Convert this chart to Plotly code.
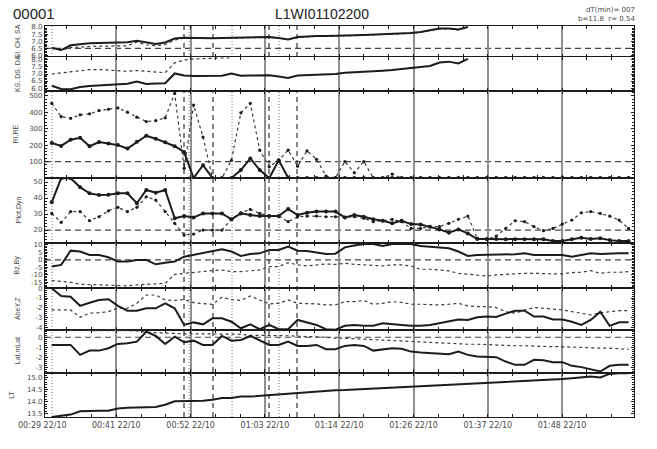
import plotly.graph_objects as go
from plotly.subplots import make_subplots

FONT = "Liberation Sans"
TICK_FONT = "DejaVu Sans"
INK = "#1c1c1c"
DOT = "#3a3a3a"
GRID = "#8f8f8f"
LABEL = "#4a4a4a"

# Sample times, minutes after 00:00 on 22/10
t = [30.92, 32.35, 33.78, 35.22, 36.65, 38.08, 39.51, 40.94, 42.38, 43.81,
     45.24, 46.67, 48.10, 49.54, 50.97, 52.40, 53.83, 55.26, 56.70, 58.13,
     59.56, 60.99, 62.42, 63.86, 65.29, 66.72, 68.15, 69.58, 71.02, 72.45,
     73.88, 75.31, 76.74, 78.18, 79.61, 81.04, 82.47, 83.90, 85.34, 86.77,
     88.20, 89.63, 91.06, 92.50, 93.93, 95.36, 96.79, 98.22, 99.66, 101.09,
     102.52, 103.95, 105.38, 106.82, 108.25, 109.68, 111.11, 112.54, 113.98, 115.41,
     116.84, 118.27]

# Time axis ticks
tick_times = [40.70, 51.95, 63.20, 74.45, 85.70, 96.95, 108.20]
tick_labels = ["00:41 22/10", "00:52 22/10", "01:03 22/10", "01:14 22/10",
               "01:26 22/10", "01:37 22/10", "01:48 22/10"]
first_tick_time = 29.45
first_tick_label = "00:29 22/10"
x_range = [29.90, 119.09]

# Event markers
dashed_events = [50.95, 55.34, 63.82, 68.06]
dotted_events = [30.96, 51.71, 58.22, 65.34]

# Panel 1: SI (solid), SA (dotted)
si = [6.54, 6.38, 6.71, 6.80, 6.85, 6.87, 6.89, 6.89, 6.92, 7.04,
      6.91, 6.80, 6.91, 7.19, 7.25, 7.23, 7.23, 7.20, 7.23, 7.25,
      7.25, 7.26, 7.27, 7.30, 7.23, 7.13, 7.30, 7.35, 7.37, 7.37,
      7.37, 7.39, 7.42, 7.44, 7.46, 7.47, 7.51, 7.54, 7.58, 7.65,
      7.75, 7.89, 7.89, 7.82, 8.00]
sa = [6.49, 6.38, 6.56, 6.61, 6.64, 6.66, 6.66, 6.66, 6.68, 6.94,
      6.75, 6.68, 6.77, 7.08, 7.22, 7.21, 7.20, 7.18, 7.21, 7.23,
      7.23, 7.24, 7.25, 7.27, 7.21, 7.12, 7.27, 7.33, 7.35, 7.35,
      7.35, 7.37, 7.40, 7.42, 7.44, 7.45, 7.49, 7.52, 7.56, 7.63,
      7.73, 7.87, 7.87, 7.80, 7.98]

# Panel 2: KS (solid), DS (dotted)
ks = [6.16, 5.93, 5.91, 6.07, 6.14, 6.19, 6.21, 6.26, 6.31, 6.46,
      6.29, 6.32, 6.34, 7.04, 6.89, 6.86, 6.86, 6.88, 6.88, 7.04,
      6.88, 6.89, 6.89, 6.91, 6.82, 6.71, 6.89, 6.91, 6.93, 6.93,
      7.00, 7.09, 7.12, 7.14, 7.19, 7.24, 7.29, 7.36, 7.43, 7.46,
      7.57, 7.82, 7.88, 7.75, 8.08]
ds = [7.00, 7.07, 7.16, 7.25, 7.31, 7.32, 7.29, 7.25, 7.19, 7.25,
      7.18, 7.11, 7.09, 7.79, 8.00, 8.07, 8.11, 8.12, 8.14, 8.14]

# Panel 3: RI (solid), RE (dotted)
ri = [213, 195, 233, 245, 193, 219, 210, 200, 179, 220,
      257, 239, 217, 193, 158, 0, 78, 0, 0, 0,
      48, 119, 48, 0, 108, 2, 0, 0, 0, 0,
      0, 0, 0, 0, 0, 0, 0, 0, 0, 0,
      0, 0, 0, 0, 0, 0, 0, 0, 0, 0,
      0, 0, 0, 0, 0, 0, 0, 0, 0, 0,
      0, 0]
re = [454, 373, 363, 384, 390, 410, 418, 426, 400, 370,
      343, 349, 366, 514, 60, 444, 249, 0, 0, 108,
      396, 454, 169, 68, 108, 169, 72, 165, 114, 12,
      0, 100, 32, 100, 0, 0, 24, 0, 0, 0,
      0, 0, 0, 0, 0, 0, 0, 0, 0, 0,
      0, 0, 0, 0, 0, 0, 0, 0, 0, 0,
      0, 0]

# Panel 4: Ptot (solid), Dyn (dotted)
ptot = [37.3, 52.4, 52.4, 46.7, 42.9, 41.9, 42.0, 42.9, 42.9, 36.7,
        45.0, 43.3, 45.0, 27.3, 28.7, 27.9, 30.4, 30.4, 30.4, 26.7,
        30.4, 29.4, 28.7, 28.7, 28.7, 33.1, 29.4, 30.8, 31.5, 31.5,
        31.5, 27.9, 29.4, 28.3, 26.7, 25.8, 24.2, 25.8, 23.7, 23.5,
        22.1, 20.4, 18.3, 20.4, 17.9, 14.4, 14.4, 14.4, 14.2, 14.2,
        14.2, 14.2, 14.2, 13.1, 13.1, 14.2, 15.2, 14.4, 14.8, 13.7,
        13.1, 13.1]
dyn = [30.4, 24.8, 31.5, 31.5, 25.8, 28.3, 32.0, 34.2, 31.5, 34.2,
       40.8, 38.7, 31.5, 24.2, 16.9, 17.5, 20.0, 20.0, 20.0, 26.7,
       30.8, 32.9, 30.4, 28.7, 28.7, 25.2, 28.3, 28.7, 28.7, 28.3,
       28.3, 27.9, 28.3, 27.3, 25.2, 25.8, 26.7, 25.2, 21.0, 21.0,
       22.1, 22.1, 24.2, 26.7, 28.7, 14.8, 14.2, 16.2, 21.0, 25.8,
       25.2, 22.1, 19.6, 21.0, 23.7, 26.2, 30.8, 31.5, 30.4, 28.7,
       26.2, 21.0]

# Panel 5: Bz (solid), By (dotted)
bz = [-4.4, -3.3, 6.2, 5.6, 3.3, 3.3, 1.8, -1.1, -1.1, 0.0,
      0.0, -2.9, -1.8, -1.1, 2.2, 3.3, 4.4, 5.6, 7.1, 5.6,
      2.7, 4.0, 4.4, 6.7, 6.7, 8.9, 6.2, 6.0, 4.9, 4.0,
      4.2, 8.4, 9.6, 10.7, 10.7, 9.3, 10.7, 10.7, 10.7, 9.3,
      8.9, 8.4, 7.8, 5.6, 2.7, 3.3, 3.3, 3.3, 3.3, 3.8,
      4.4, 3.3, 3.3, 3.3, 3.3, 2.2, 3.3, 4.4, 4.0, 4.4,
      4.4, 4.4]
by = [-13.8, -14.4, -14.9, -16.2, -16.6, -16.6, -16.8, -17.0, -17.3, -16.6,
      -16.2, -15.6, -15.6, -9.6, -8.9, -8.4, -7.8, -7.1, -6.7, -7.8,
      -7.8, -7.1, -6.7, -4.4, -4.4, -1.8, -3.3, -4.0, -3.3, -2.7,
      -3.0, -2.2, -2.9, -3.3, -4.0, -4.0, -3.3, -3.3, -4.0, -6.2,
      -6.2, -6.7, -7.3, -8.9, -9.6, -10.0, -10.7, -10.0, -9.6, -8.9,
      -8.9, -8.9, -9.3, -9.3, -9.3, -8.4, -8.2, -7.1, -8.9, -8.2,
      -8.2, -7.8]

# Panel 6: AbeY (solid), Z (dotted)
abey = [0.00, -0.79, -0.86, -1.80, -1.48, -1.20, -1.13, -1.80, -2.30, -2.30,
        -2.05, -2.05, -1.54, -2.05, -3.76, -3.50, -3.70, -3.08, -3.08, -3.43,
        -4.10, -3.70, -4.20, -3.76, -4.20, -4.20, -3.25, -3.50, -3.76, -4.20,
        -4.25, -3.85, -3.76, -3.85, -3.85, -3.60, -3.65, -3.76, -3.85, -3.85,
        -3.76, -3.60, -3.38, -3.20, -3.25, -2.97, -2.90, -2.95, -2.60, -2.30,
        -2.30, -2.90, -2.90, -3.20, -3.20, -3.43, -3.76, -3.25, -2.40, -3.85,
        -3.48, -3.48]
abez = [-2.22, -2.22, -2.22, -2.97, -2.56, -2.50, -2.40, -2.05, -2.05, -1.54,
        -0.69, -0.69, -1.20, -1.25, -1.16, -1.48, -1.54, -1.64, -0.92, -1.16,
        -1.25, -0.79, -1.20, -1.60, -1.54, -1.20, -1.54, -1.54, -1.60, -1.71,
        -1.71, -1.37, -1.37, -1.25, -1.64, -1.54, -1.37, -1.45, -1.64, -1.64,
        -1.71, -1.71, -1.64, -1.54, -1.80, -1.88, -1.88, -1.98, -2.40, -2.56,
        -2.22, -1.98, -2.05, -2.15, -2.22, -2.40, -2.56, -2.73, -2.50, -2.40,
        -2.30, -2.30]

# Panel 7: Lat (solid), mLat (dotted)
lat = [-0.77, -0.77, -0.77, -1.77, -1.34, -1.34, -1.10, -0.67, -0.60, -0.44,
       0.56, 0.13, -0.67, 0.06, -0.50, -0.34, -0.77, -0.77, 0.13, -0.34,
       -0.27, 0.13, -0.34, -0.77, -0.77, -0.44, -0.87, -0.87, -0.77, -1.20,
       -1.20, -0.87, -0.77, -0.87, -1.34, -1.20, -1.10, -1.15, -1.44, -1.54,
       -1.60, -1.70, -1.70, -1.44, -1.77, -1.94, -1.94, -2.00, -2.44, -2.77,
       -2.77, -2.27, -2.30, -2.50, -2.50, -2.87, -3.00, -3.20, -3.44, -2.87,
       -2.77, -2.77]
mlat = [0.70, 0.70, 0.70, 0.70, 0.70, 0.70, 0.70, 0.70, 0.70, 0.65,
        0.50, 0.45, 0.45, 0.40, 0.35, 0.35, 0.35, 0.30, 0.30, 0.30,
        0.30, 0.20, 0.20, 0.15, 0.15, 0.15, 0.10, 0.10, 0.05, 0.00,
        -0.10, -0.10, -0.15, -0.20, -0.25, -0.30, -0.35, -0.40, -0.45, -0.50,
        -0.55, -0.60, -0.60, -0.65, -0.70, -0.70, -0.75, -0.75, -0.80, -0.85,
        -0.85, -0.90, -0.90, -0.95, -0.95, -1.00, -1.00, -1.05, -1.10, -1.10,
        -1.15, -1.20]

# Panel 8: local time
lt = [13.36, 13.42, 13.46, 13.60, 13.62, 13.62, 13.62, 13.71, 13.74, 13.77,
      13.77, 13.78, 13.87, 14.01, 14.01, 14.04, 14.04, 14.08, 14.15, 14.15,
      14.21, 14.21, 14.24, 14.28, 14.28, 14.33, 14.36, 14.38, 14.42, 14.45,
      14.47, 14.48, 14.50, 14.52, 14.54, 14.56, 14.58, 14.60, 14.61, 14.63,
      14.65, 14.67, 14.69, 14.70, 14.72, 14.74, 14.76, 14.77, 14.79, 14.81,
      14.83, 14.86, 14.89, 14.92, 14.94, 14.97, 15.00, 15.04, 15.00, 15.15,
      15.18, 15.18]

# Panel settings: title, y range, tick values, minor step, reference level,
# label format, title x position (px)
panels = [
    ("SI, CH, SA", [5.89, 8.07], [6.0, 6.5, 7.0, 7.5, 8.0], 0.1, 6.5, ".1f", 17),
    ("KS, DS, DA", [5.79, 8.21], [6.0, 6.5, 7.0, 7.5, 8.0], 0.1, 6.5, ".1f", 17),
    ("RI,RE", [0, 529], [100, 200, 300, 400, 500], 20, 100, "d", 15),
    ("Ptot,Dyn", [11.9, 52.5], [20, 30, 40, 50], 2, 20, "d", 19),
    ("Bz,By", [-18.7, 11.3], [-15, -10, -5, 0, 5, 10], 1, 0, "d", 16),
    ("AbeY,Z", [-4.28, 0.03], [-4, -3, -2, -1, 0], 0.2, 0, "d", 17),
    ("Lat,mLat", [-3.54, 0.73], [-3, -2, -1, 0], 0.2, 0, "d", 17),
    ("LT", [13.36, 15.21], [13.5, 14.0, 14.5, 15.0], 0.1, None, ".1f", 12),
]

row_px = [31, 34, 87, 65, 45, 42, 42.5, 44.5]
fig = make_subplots(rows=8, cols=1, shared_xaxes=True, vertical_spacing=0,
                    row_heights=row_px)


def add_series(x, y, row, solid=True, markers=False):
    fig.add_trace(go.Scatter(
        x=x, y=y,
        mode="lines+markers" if markers else "lines",
        line=dict(color=INK if solid else DOT, width=2.0 if solid else 1.2,
                  dash="solid" if solid else "dot"),
        marker=dict(size=4 if solid else 3.2, color=INK),
        showlegend=False, hoverinfo="skip"), row=row, col=1)


add_series(t[:len(sa)], sa, 1, solid=False)
add_series(t[:len(si)], si, 1)
add_series(t[:len(ds)], ds, 2, solid=False)
add_series(t[:len(ks)], ks, 2)
add_series(t, re, 3, solid=False, markers=True)
add_series(t, ri, 3, markers=True)
add_series(t, dyn, 4, solid=False, markers=True)
add_series(t, ptot, 4, markers=True)
add_series(t, by, 5, solid=False)
add_series(t, bz, 5)
add_series(t, abez, 6, solid=False)
add_series(t, abey, 6)
add_series(t, mlat, 7, solid=False)
add_series(t, lat, 7)
add_series(t, lt, 8)

x_tick_font = dict(family=TICK_FONT, size=8, color=LABEL)
y_tick_font = dict(family=TICK_FONT, size=7, color=LABEL)

for r in range(1, 9):
    fig.update_xaxes(
        range=x_range, tickmode="array", tickvals=tick_times, ticktext=tick_labels,
        showticklabels=(r == 8), tickfont=x_tick_font,
        showgrid=True, gridcolor=GRID, gridwidth=1.5,
        ticks="inside", ticklen=3, tickcolor=INK,
        minor=dict(tick0=first_tick_time, dtick=3.75, ticks="inside", ticklen=3,
                   tickcolor=INK, showgrid=False),
        showline=True, linecolor=INK, linewidth=1.2, mirror="ticks",
        zeroline=False, row=r, col=1)

for r, (title, yr, tv, minor_step, ref, fmt, _) in enumerate(panels, start=1):
    fig.update_yaxes(
        range=yr, tickmode="array", tickvals=tv,
        ticktext=[format(v, fmt) if fmt != "d" else str(int(v)) for v in tv],
        tickfont=y_tick_font, ticks="inside", ticklen=3, tickcolor=INK,
        minor=dict(dtick=minor_step, ticks="inside", ticklen=2, tickcolor=INK,
                   showgrid=False),
        showgrid=False, showline=True, linecolor=INK, linewidth=1.2,
        mirror="ticks", zeroline=False, row=r, col=1)
    if ref is not None:
        fig.add_hline(y=ref, row=r, col=1, layer="below",
                      line=dict(color="#454545", width=1.2, dash="6px,4px"))

for e in dashed_events:
    fig.add_shape(type="line", xref="x", yref="paper", x0=e, x1=e, y0=0, y1=1,
                  layer="below", line=dict(color="#333333", width=1.2, dash="5px,4px"))
for e in dotted_events:
    fig.add_shape(type="line", xref="x", yref="paper", x0=e, x1=e, y0=0, y1=1,
                  layer="below", line=dict(color="#777777", width=1, dash="1px,2px"))

W, H = 657, 449
ML, MR, MT, MB = 45, 23, 26, 32
PW, PH = W - ML - MR, H - MT - MB


def px_x(px):
    return (px - ML) / PW


def px_y(py):
    return (H - MB - py) / PH


annotations = []
# vertical panel titles
edges = [26]
for h in row_px:
    edges.append(edges[-1] + h)
for i, p in enumerate(panels):
    cy = (edges[i] + edges[i + 1]) / 2
    annotations.append(dict(text=p[0], xref="paper", yref="paper",
                            x=px_x(p[6]), y=px_y(cy), textangle=-90,
                            showarrow=False, xanchor="center", yanchor="middle",
                            font=dict(family=FONT, size=7, color=LABEL)))

# first time label sits just left of the plotted interval
x_scale = PW / (x_range[1] - x_range[0])
first_px = ML + (first_tick_time - x_range[0]) * x_scale
annotations.append(dict(text=first_tick_label, xref="paper", yref="paper",
                        x=px_x(first_px), y=0, yanchor="top", xanchor="center",
                        yshift=-2, showarrow=False, font=x_tick_font))

annotations += [
    dict(text="00001", xref="paper", yref="paper", x=px_x(11), y=px_y(14),
         xanchor="left", yanchor="middle", showarrow=False,
         font=dict(family=FONT, size=15, color="#222222")),
    dict(text="L1WI01102200", xref="paper", yref="paper", x=px_x(322), y=px_y(14),
         xanchor="center", yanchor="middle", showarrow=False,
         font=dict(family=FONT, size=14, color="#222222")),
    dict(text="dT(min)= 007", xref="paper", yref="paper", x=px_x(637), y=px_y(10),
         xanchor="right", yanchor="middle", showarrow=False,
         font=dict(family=TICK_FONT, size=7, color=LABEL)),
    dict(text="b=11.8  r= 0.54", xref="paper", yref="paper", x=px_x(637), y=px_y(19),
         xanchor="right", yanchor="middle", showarrow=False,
         font=dict(family=TICK_FONT, size=7, color=LABEL)),
]

fig.update_layout(
    width=W, height=H,
    margin=dict(l=ML, r=MR, t=MT, b=MB),
    paper_bgcolor="white", plot_bgcolor="white",
    showlegend=False, annotations=annotations,
    font=dict(family=FONT, color=LABEL),
)

fig.write_html("out.html")
